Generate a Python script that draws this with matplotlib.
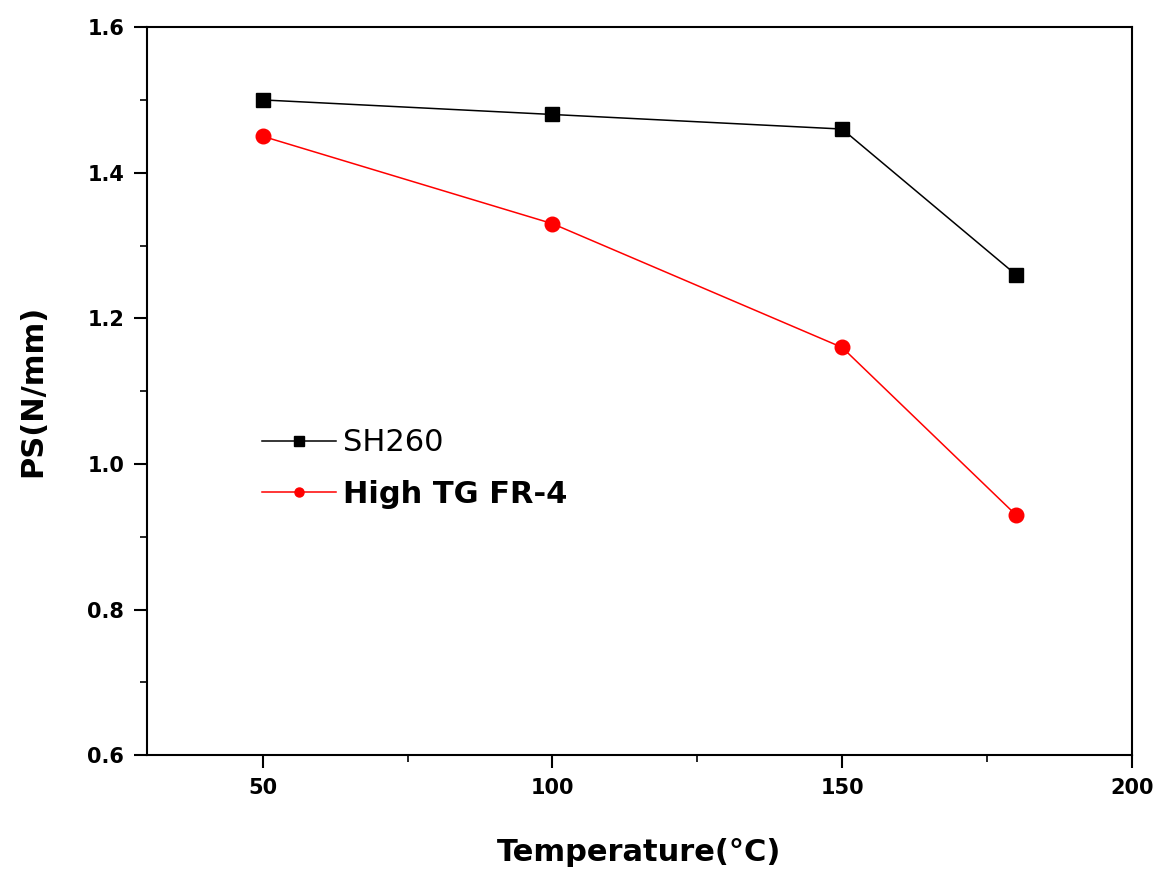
import matplotlib
matplotlib.use("Agg")
import matplotlib.pyplot as plt
from matplotlib.ticker import MultipleLocator, FormatStrFormatter

temps = [50, 100, 150, 180]
sh260 = [1.50, 1.48, 1.46, 1.26]
high_tg = [1.45, 1.33, 1.16, 0.93]
labels = ["SH260", "High TG FR-4"]

plt.rcParams['font.family'] = ['DejaVu Sans']

fig = plt.figure(figsize=(11.62, 8.75), dpi=100)
ax = fig.add_axes([0.1265, 0.137, 0.8475, 0.832])

ax.plot(temps, sh260, color='black', lw=1.1, marker='s', markersize=10.5, label=labels[0])
ax.plot(temps, high_tg, color='red', lw=1.1, marker='o', markersize=10.5, label=labels[1])

ax.set_xlim(30, 200)
ax.set_ylim(0.6, 1.6)
ax.xaxis.set_major_locator(MultipleLocator(50))
ax.xaxis.set_minor_locator(MultipleLocator(25))
ax.yaxis.set_major_locator(MultipleLocator(0.2))
ax.yaxis.set_minor_locator(MultipleLocator(0.1))
ax.yaxis.set_major_formatter(FormatStrFormatter('%.1f'))

for s in ax.spines.values():
    s.set_linewidth(1.5)
ax.tick_params(which='major', direction='out', length=9.5, width=1.5, labelsize=15, pad=7)
ax.tick_params(which='minor', direction='out', length=5, width=1.2)
for lab in ax.get_xticklabels() + ax.get_yticklabels():
    lab.set_fontweight('bold')

ax.set_xlabel("Temperature(°C)", fontsize=22, fontweight='bold', labelpad=29)
ax.set_ylabel("PS(N/mm)", fontsize=22, fontweight='bold', labelpad=29)

leg = ax.legend(loc='upper left', bbox_to_anchor=(0.117, 0.449), frameon=False,
                fontsize=22, handlelength=2.4, handletextpad=0.25, labelspacing=0.73,
                borderpad=0, borderaxespad=0, markerscale=0.62)
leg.get_texts()[1].set_fontweight('bold')

fig.savefig("out.png", dpi=100)
